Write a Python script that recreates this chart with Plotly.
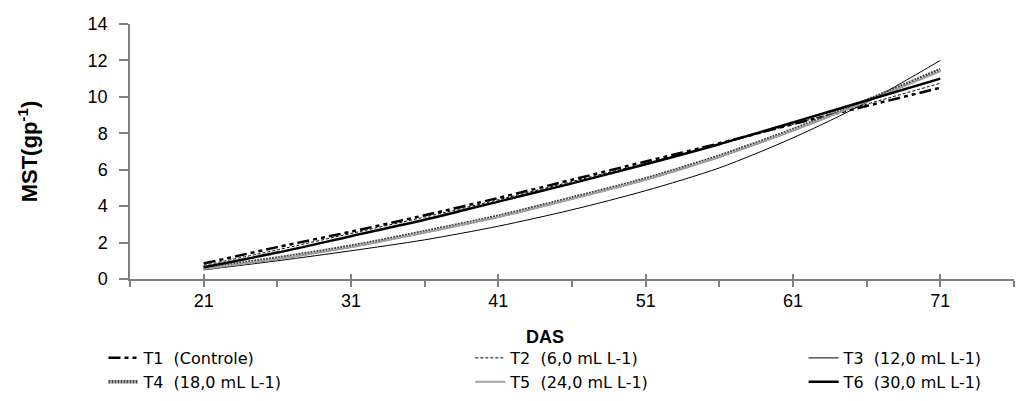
import plotly.graph_objects as go

das = [21, 26, 31, 36, 41, 46, 51, 56, 61, 66, 71]

t1 = [0.85, 1.75, 2.6, 3.5, 4.45, 5.45, 6.45, 7.45, 8.5, 9.5, 10.5]
t2 = [0.75, 1.6, 2.5, 3.4, 4.35, 5.35, 6.35, 7.4, 8.5, 9.6, 10.75]
t3 = [0.5, 1.0, 1.55, 2.15, 2.9, 3.8, 4.85, 6.1, 7.75, 9.7, 12.0]
t4 = [0.6, 1.15, 1.8, 2.6, 3.45, 4.45, 5.5, 6.75, 8.2, 9.8, 11.5]
t5 = [0.55, 1.1, 1.75, 2.55, 3.4, 4.4, 5.45, 6.7, 8.15, 9.75, 11.4]
t6 = [0.65, 1.45, 2.35, 3.25, 4.25, 5.25, 6.3, 7.4, 8.6, 9.8, 11.0]

names = ["T1  (Controle)", "T2  (6,0 mL L-1)", "T3  (12,0 mL L-1)",
         "T4  (18,0 mL L-1)", "T5  (24,0 mL L-1)", "T6  (30,0 mL L-1)"]

x_major = [21, 31, 41, 51, 61, 71]
y_ticks = [0, 2, 4, 6, 8, 10, 12, 14]

styles = [
    dict(color="#000000", width=2.5, dash="12px,4px,4px,4px,4px,4px"),
    dict(color="#000000", width=1, dash="3px,2px"),
    dict(color="#000000", width=1),
    dict(color="#444444", width=3.5, dash="2px,1px"),
    dict(color="#a0a0a0", width=2),
    dict(color="#000000", width=2.5),
]
legends = ["legend", "legend2", "legend3", "legend", "legend2", "legend3"]

fig = go.Figure()
for i, ys in enumerate([t1, t2, t3, t4, t5, t6]):
    fig.add_trace(go.Scatter(
        x=das, y=ys, mode="lines", name=names[i],
        line=dict(shape="spline", smoothing=0.8, **styles[i]),
        legend=legends[i],
    ))

# invisible trace for the crossing part of the major ticks
fig.add_trace(go.Scatter(x=[16, 76], y=[0, 0], xaxis="x2", mode="lines",
                         line=dict(width=0), showlegend=False, hoverinfo="skip"))

axis_col = "#808080"
tick_font = dict(family="Liberation Sans, Arial", size=18, color="#000")
leg_font = dict(family="DejaVu Sans", size=16, color="#000")
leg_y = -0.243

fig.update_layout(
    # page has an 8px body margin, so the figure is sized to fit the window
    width=1018, height=393,
    margin=dict(l=122, r=12, t=16, b=122, autoexpand=False),
    paper_bgcolor="white", plot_bgcolor="white",
    font=dict(color="#000"),
    xaxis=dict(range=[16, 76], tickvals=x_major, ticks="outside", ticklen=5,
               tickcolor=axis_col, tickwidth=1.5, showline=True, linecolor=axis_col,
               linewidth=1.5, showgrid=False, zeroline=False, tickfont=tick_font,
               automargin=False,
               minor=dict(tick0=16, dtick=5, ticks="outside", ticklen=6,
                          tickcolor=axis_col, tickwidth=1.5, showgrid=False)),
    xaxis2=dict(range=[16, 76], overlaying="x", tickvals=x_major, ticks="inside",
                ticklen=5, tickcolor=axis_col, tickwidth=1.5, showticklabels=False,
                showgrid=False, zeroline=False, side="bottom", anchor="y",
                automargin=False),
    yaxis=dict(range=[0, 14], tickvals=y_ticks, ticks="outside", ticklen=9,
               tickcolor=axis_col, tickwidth=1.5, showline=True, linecolor=axis_col,
               linewidth=1.5, showgrid=False, zeroline=False, tickfont=tick_font,
               ticklabelstandoff=8, automargin=False,
               title=dict(text="<b>MST(gp<sup>-1</sup>)</b>",
                          font=dict(family="Liberation Sans, Arial", size=22, color="#000"),
                          standoff=44)),
    annotations=[dict(text="<b>DAS</b>", xref="paper", yref="paper",
                      x=0.47, y=-0.227, xanchor="center", yanchor="middle",
                      showarrow=False,
                      font=dict(family="Liberation Sans, Arial", size=18, color="#000"))],
    showlegend=True,
    legend=dict(x=-0.03, y=leg_y, xanchor="left", yanchor="top", font=leg_font,
                bgcolor="rgba(0,0,0,0)"),
    legend2=dict(x=0.385, y=leg_y, xanchor="left", yanchor="top", font=leg_font,
                 bgcolor="rgba(0,0,0,0)"),
    legend3=dict(x=0.762, y=leg_y, xanchor="left", yanchor="top", font=leg_font,
                 bgcolor="rgba(0,0,0,0)"),
)

fig.write_html("out.html")
